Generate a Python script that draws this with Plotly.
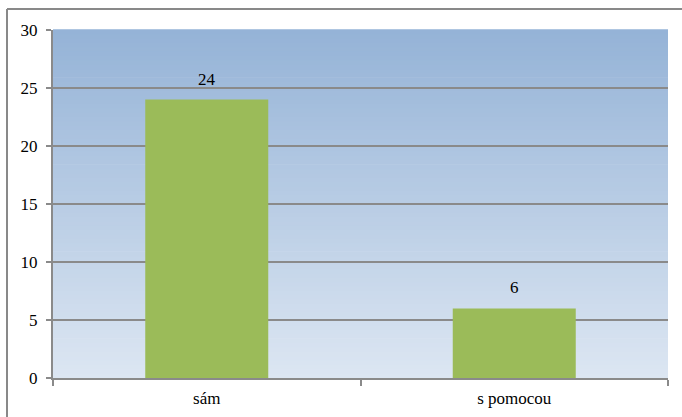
import plotly.graph_objects as go

categories = ["sám", "s pomocou"]
values = [24, 6]
y_ticks = [0, 5, 10, 15, 20, 25, 30]

W, H = 682, 417
L, R, T, B = 53, 14, 30, 39
pw, ph = W - L - R, H - T - B
FONT = "Liberation Serif"

TOP_RGB = (149, 179, 215)
BOT_RGB = (220, 230, 242)
N_STRIPES = 80

fig = go.Figure(go.Bar(
    x=categories, y=values, width=0.4,
    marker=dict(color="#9BBB59", line=dict(width=0)),
))

def px_x(p):
    return (p - L) / pw

def px_y(p):
    return (H - B - p) / ph

shapes = []
for i in range(N_STRIPES):
    t = i / (N_STRIPES - 1)
    c = tuple(round(BOT_RGB[k] + (TOP_RGB[k] - BOT_RGB[k]) * t) for k in range(3))
    shapes.append(dict(type="rect", xref="paper", yref="paper", layer="below",
                       x0=0, x1=1, y0=i / N_STRIPES, y1=(i + 1) / N_STRIPES + 0.002,
                       fillcolor="rgb(%d,%d,%d)" % c, line=dict(width=0)))
shapes += [
    dict(type="line", xref="paper", yref="paper",
         x0=px_x(7), x1=px_x(7), y0=px_y(9), y1=px_y(420),
         line=dict(color="#898989", width=2)),
    dict(type="line", xref="paper", yref="paper",
         x0=px_x(7), x1=px_x(685), y0=px_y(9), y1=px_y(9),
         line=dict(color="#898989", width=2)),
]

annotations = [dict(x=c, y=v, text=str(v), showarrow=False, yanchor="bottom",
                    yshift=9, font=dict(family=FONT, size=17, color="black"))
               for c, v in zip(categories, values)]

fig.update_layout(
    width=W, height=H,
    margin=dict(l=L, r=R, t=T, b=B, autoexpand=False),
    paper_bgcolor="white", plot_bgcolor="rgba(0,0,0,0)",
    font=dict(family=FONT, size=17, color="black"),
    showlegend=False,
    annotations=annotations,
    shapes=shapes,
)
fig.update_yaxes(range=[0, 30], tickvals=y_ticks, showgrid=True,
                 gridcolor="#8a8a8a", gridwidth=2,
                 showline=True, linecolor="#8a8a8a", linewidth=2,
                 ticks="outside", ticklen=5, tickcolor="#8a8a8a", tickwidth=2,
                 ticklabelstandoff=5, automargin=False,
                 zeroline=False, tickfont=dict(family=FONT, size=17))
fig.update_xaxes(showline=True, linecolor="#8a8a8a", linewidth=2,
                 ticks="outside", tickson="boundaries", ticklen=6,
                 tickcolor="#8a8a8a", tickwidth=2, showgrid=False,
                 ticklabelstandoff=4, automargin=False,
                 tickfont=dict(family=FONT, size=17))

fig.write_html("out.html")
